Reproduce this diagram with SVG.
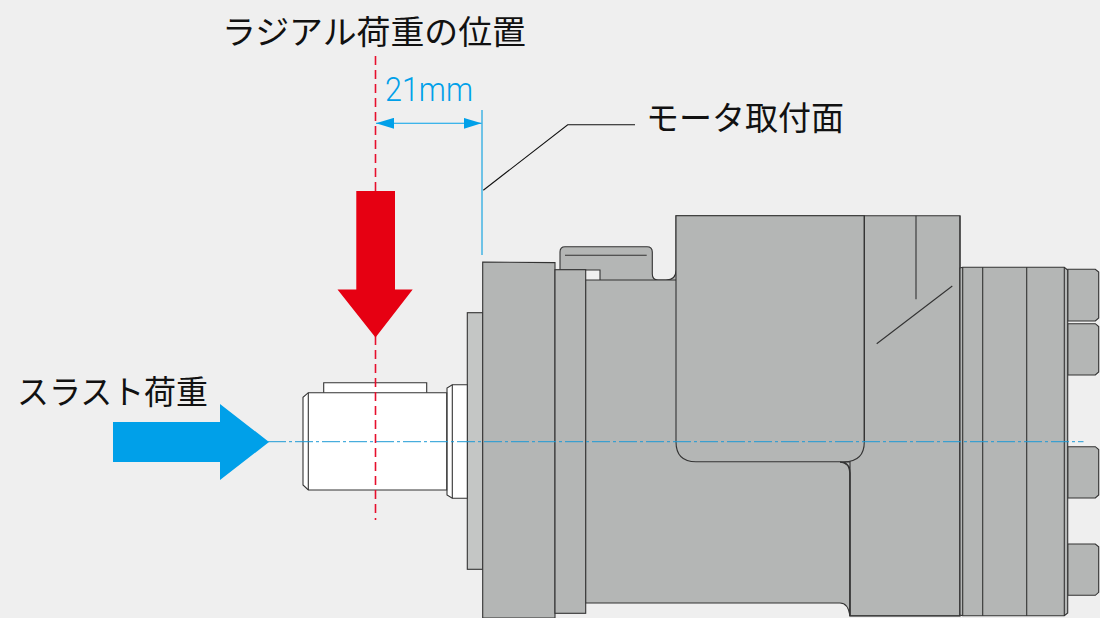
<svg xmlns="http://www.w3.org/2000/svg" width="1100" height="618" viewBox="0 0 1100 618">
<defs>
<marker id="dimhead" markerUnits="userSpaceOnUse" markerWidth="18" markerHeight="11" refX="18" refY="5.5" orient="auto-start-reverse"><path d="M0 0L18 5.5L0 11Z" fill="#00a0e9"/></marker>
</defs>
<style>
.part{fill:#b4b6b5;stroke:#333;stroke-width:1.1}
.white{fill:#fff;stroke:#333;stroke-width:1.1}
.edge{fill:none;stroke:#333;stroke-width:1.1}
.lbl{font-family:"Noto Sans CJK JP","Noto Sans",sans-serif;font-size:33px;fill:#111}
</style>
<rect width="1100" height="618" fill="#efefef"/>
<g id="motor">
<path class="part" d="M560 270V252Q560 246.7 565 246.7H647Q652.3 246.7 652.3 252V274Q652.3 280 658 280H666Q676 280 676 270V215.7H960V616H850V473Q850 462 840 462H600V270Z"/>
<path class="part" d="M585.5 280H850V473Q850 462 840 462V462H850V615.7Q848 603 840 603H585.5Z"/>
<path class="part" d="M676 215.7H864.3V441.7Q864.3 461.7 844 461.7H696Q676 461.7 676 441.7Z"/>
<path class="edge" d="M840 462Q849.7 463 849.7 473V615.7H960V215.7M864.3 215.7V442M916 215.7V299.3M876.7 343.7L952.3 286M565 255.3H646.7"/>
<rect x="467.3" y="312.7" width="15.7" height="256.6" fill="#c4c6c5" stroke="#333" stroke-width="1.1"/>
<path class="part" d="M482.7 262L555 262.6V618H482.7Z"/>
<rect class="part" x="555" y="269.7" width="30.7" height="343.6"/>
<g id="bolts">
<path class="part" d="M1067.7 269.3H1095.3L1098.7 272V318L1095.3 321H1067.7Z"/>
<path class="part" d="M1067.7 323.7H1095.3L1098.7 326.5V372L1095.3 375H1067.7Z"/>
<path class="part" d="M1067.7 446.7H1095.3L1098.7 449.5V495L1095.3 498H1067.7Z"/>
<path class="part" d="M1067.7 544H1095.3L1098.7 546.8V592.3L1095.3 595.3H1067.7Z"/>
</g>
<path class="part" d="M960 268L962.7 267.3H1064.3L1067.7 270V613L1064.3 615.7H962.7L960 615Z"/>
<path class="edge" d="M962.7 267.3V615.7M982.7 267.3V615.7M1026.7 267.3V615.7M1064.3 267.3V615.7"/>
</g>
<g id="shaft">
<path class="white" d="M323.7 392.7V382.7H426.7V392.7"/>
<path class="white" d="M452.3 384.7H467.3V498.3H452.3L447 495V388Z"/>
<path class="edge" d="M452.3 384.7V498.3"/>
<path class="white" d="M308.3 392.7H446.7V490H308.3L303 485V397.3Z"/>
<path class="edge" d="M308.3 392.7V490"/>
</g>
<g id="connectors">
<line x1="268" y1="441.7" x2="1083.5" y2="441.7" fill="none" stroke="#1e9ad6" stroke-width="1" stroke-dasharray="18 3 3 3"/>
<line x1="375.5" y1="56" x2="375.5" y2="520" fill="none" stroke="#e60f2d" stroke-width="1.6" stroke-dasharray="9 5"/>
<line x1="482" y1="110" x2="482" y2="255" fill="none" stroke="#29abe2" stroke-width="1.3"/>
<line x1="376" y1="123.3" x2="481.5" y2="123.3" fill="none" stroke="#00a0e9" stroke-width="1.1" marker-start="url(#dimhead)" marker-end="url(#dimhead)"/>
<path d="M483.3 190.3L567.7 124.7H635" fill="none" stroke="#111" stroke-width="1.1"/>
</g>
<g id="radial-arrow"><path d="M356.3 191H395V289.5H412.7L375.5 337.5L337.5 289.5H356.3Z" fill="#e60012"/></g>
<g id="thrust-arrow"><path d="M113 422H220V404L269 442L220 480V462H113Z" fill="#00a0e9"/></g>
<g id="labels">
<text class="lbl" x="222" y="44" textLength="304" lengthAdjust="spacingAndGlyphs">ラジアル荷重の位置</text>
<text class="lbl" x="646" y="130" textLength="198" lengthAdjust="spacingAndGlyphs">モータ取付面</text>
<text class="lbl" x="17" y="404" textLength="191" lengthAdjust="spacingAndGlyphs">スラスト荷重</text>
<text x="385" y="101" font-family="Roboto,'Liberation Sans',sans-serif" font-weight="300" font-size="34" fill="#00a0e9" textLength="88" lengthAdjust="spacingAndGlyphs">21mm</text>
</g>
</svg>
